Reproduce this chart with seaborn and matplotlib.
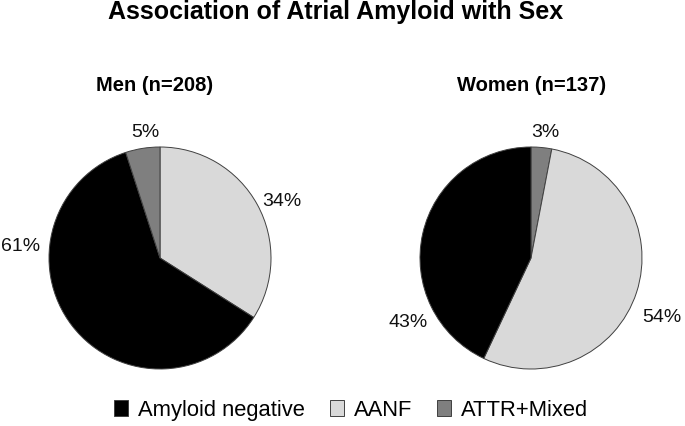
import matplotlib
matplotlib.use("Agg")
import matplotlib.pyplot as plt
from matplotlib.patches import Patch
import seaborn as sns

# data
categories = ["Amyloid negative", "AANF", "ATTR+Mixed"]
men_pct = [61, 34, 5]
women_pct = [43, 54, 3]
men_title = "Men (n=208)"
women_title = "Women (n=137)"

# drawing order clockwise from 12 o'clock
men_order = [1, 0, 2]
women_order = [2, 1, 0]

colors = {"Amyloid negative": "#000000", "AANF": "#d9d9d9", "ATTR+Mixed": "#7f7f7f"}

# label positions in pie units (radius 1), by category
men_label_pos = {"Amyloid negative": (-1.255, 0.11), "AANF": (1.10, 0.52), "ATTR+Mixed": (-0.13, 1.14)}
women_label_pos = {"Amyloid negative": (-1.11, -0.57), "AANF": (1.18, -0.53), "ATTR+Mixed": (0.13, 1.14)}

sns.set_theme(style="white")
plt.rcParams["font.family"] = ["Liberation Sans", "DejaVu Sans"]
plt.rcParams["text.color"] = "black"

W, H = 685, 427
R = 111  # pie radius in pixels
fig = plt.figure(figsize=(W / 100, H / 100), dpi=100)


def add_pie(cx, cy, half_w, half_h, values, order, label_pos):
    """Draw one pie centred at pixel (cx, cy) measured from top-left."""
    ax = fig.add_axes([(cx - half_w) / W, (H - cy - half_h) / H, 2 * half_w / W, 2 * half_h / H])
    names = [categories[i] for i in order]
    vals = [values[i] for i in order]
    ax.pie(vals, colors=[colors[n] for n in names], startangle=90, counterclock=False,
           radius=1, wedgeprops=dict(edgecolor="#404040", linewidth=0.7))
    ax.set_xlim(-half_w / R, half_w / R)
    ax.set_ylim(-half_h / R, half_h / R)
    ax.set_aspect("auto")
    for n, v in zip(names, vals):
        x, y = label_pos[n]
        ax.text(x, y, f"{v}%", ha="center", va="center", fontsize=14, color="#111111")
    ax.axis("off")
    return ax


add_pie(160, 259, 160, 149, men_pct, men_order, men_label_pos)
add_pie(531, 259, 150, 149, women_pct, women_order, women_label_pos)

fig.text(335.5 / W, 1 - 19 / H, "Association of Atrial Amyloid with Sex", ha="center",
         va="baseline", fontsize=18, fontweight="bold")
fig.text(155 / W, 1 - 91 / H, men_title, ha="center", va="baseline", fontsize=14.5, fontweight="bold")
fig.text(532 / W, 1 - 91 / H, women_title, ha="center", va="baseline", fontsize=14.5, fontweight="bold")

handles = [Patch(facecolor=colors[c], edgecolor="#404040", linewidth=0.7) for c in categories]
fig.legend(handles, categories, loc="center", bbox_to_anchor=(351 / W, 1 - 411 / H), ncol=3,
           frameon=False, fontsize=15.8, handlelength=0.64, handleheight=0.74,
           handletextpad=0.45, columnspacing=1.15, borderpad=0)

fig.savefig("out.png", dpi=100)
